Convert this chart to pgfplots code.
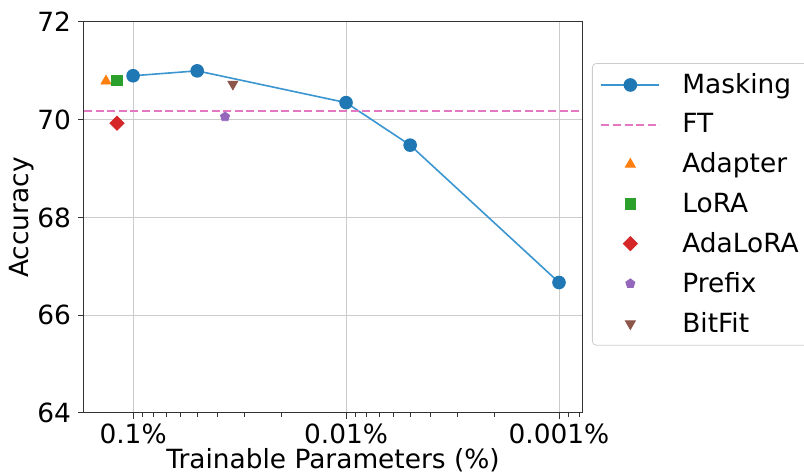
\documentclass[border=0pt]{standalone}
\usepackage{pgfplots}
\pgfplotsset{compat=1.18}
\usepackage{fontspec}
\setmainfont{DejaVu Sans}
\definecolor{tabblue}{HTML}{1F77B4}
\definecolor{lineblue}{HTML}{3A95D0}
\definecolor{tabpink}{HTML}{E377C2}
\definecolor{taborange}{HTML}{FF7F0E}
\definecolor{tabgreen}{HTML}{2CA02C}
\definecolor{tabred}{HTML}{D62728}
\definecolor{tabpurple}{HTML}{9467BD}
\definecolor{tabbrown}{HTML}{8C564B}
\newcommand{\fs}{\fontsize{13.2}{15.5}\selectfont}
\pgfplotsset{
  linelegend/.style={legend image code/.code={\draw[mark repeat=2,mark phase=2,##1] plot coordinates {(0pt,0pt) (14.5pt,0pt) (29pt,0pt)};}},
  marklegend/.style={legend image code/.code={\draw[mark repeat=2,mark phase=2,##1] plot coordinates {(0pt,0pt) (14.5pt,0pt) (29pt,0pt)};}},
}
\begin{document}
\begin{tikzpicture}
\begin{axis}[
  scale only axis, width=249pt, height=195.5pt,
  xmode=log, x dir=reverse, xmin=0.00078, xmax=0.17,
  ymin=64, ymax=72, ytick={64,66,68,70,72},
  xtick={0.1,0.01,0.001}, xticklabels={0.1\%,0.01\%,0.001\%},
  minor xtick={0.09,0.08,0.07,0.06,0.05,0.04,0.03,0.02,0.009,0.008,0.007,0.006,0.005,0.004,0.003,0.002,0.0009,0.0008},
  xmajorgrids, ymajorgrids,
  major grid style={black!20, line width=0.5pt},
  tick align=outside, tick pos=left,
  major tick length=3pt, minor tick length=1.8pt,
  every tick/.style={black!80, line width=0.5pt},
  axis line style={line width=0.5pt, black!80},
  xlabel={Trainable Parameters (\%)}, ylabel={Accuracy},
  xlabel style={yshift=4.5pt},
  ylabel style={yshift=-5pt},
  xticklabel style={yshift=1pt},
  tick label style={font=\fs},
  label style={font=\fs},
  /pgf/number format/assume math mode=true,
  legend cell align=left,
  legend style={font=\fs, at={(1.02,0.895)}, anchor=north west,
    draw=black!20, rounded corners=2pt, fill=white,
    row sep=4.5pt, inner xsep=4pt, inner ysep=3pt,
    /tikz/every odd column/.append style={column sep=9pt}},
]
\addplot[lineblue, line width=0.8pt, mark=*, mark size=3pt, mark options={fill=tabblue, draw=tabblue}, linelegend]
  coordinates {(0.1,70.90) (0.05,71.00) (0.01,70.35) (0.005,69.48) (0.001,66.67)};
\addlegendentry{Masking}
\addplot[tabpink, line width=1pt, dash pattern=on 4pt off 1.8pt, linelegend]
  coordinates {(0.17,70.17) (0.00078,70.17)};
\addlegendentry{FT}
\addplot[only marks, mark=triangle*, mark size=2.9pt, color=taborange, marklegend]
  coordinates {(0.134,70.79)};
\addlegendentry{Adapter}
\addplot[only marks, mark=square*, mark size=2.6pt, color=tabgreen, marklegend]
  coordinates {(0.119,70.81)};
\addlegendentry{LoRA}
\addplot[only marks, mark=square*, mark size=2.5pt, mark options={rotate=45}, color=tabred, marklegend]
  coordinates {(0.119,69.93)};
\addlegendentry{AdaLoRA}
\addplot[only marks, mark=pentagon*, mark size=2.4pt, color=tabpurple, marklegend]
  coordinates {(0.037,70.06)};
\addlegendentry{Prefix}
\addplot[only marks, mark=triangle*, mark size=2.9pt, mark options={rotate=180}, color=tabbrown, marklegend]
  coordinates {(0.034,70.73)};
\addlegendentry{BitFit}
\coordinate (bl) at (rel axis cs:0,0);
\coordinate (tr) at (rel axis cs:1,1);
\end{axis}
\pgfresetboundingbox
\path[use as bounding box] ([shift={(-42pt,-29.5pt)}]bl) rectangle ([shift={(111pt,11pt)}]tr);
\end{tikzpicture}
\end{document}
